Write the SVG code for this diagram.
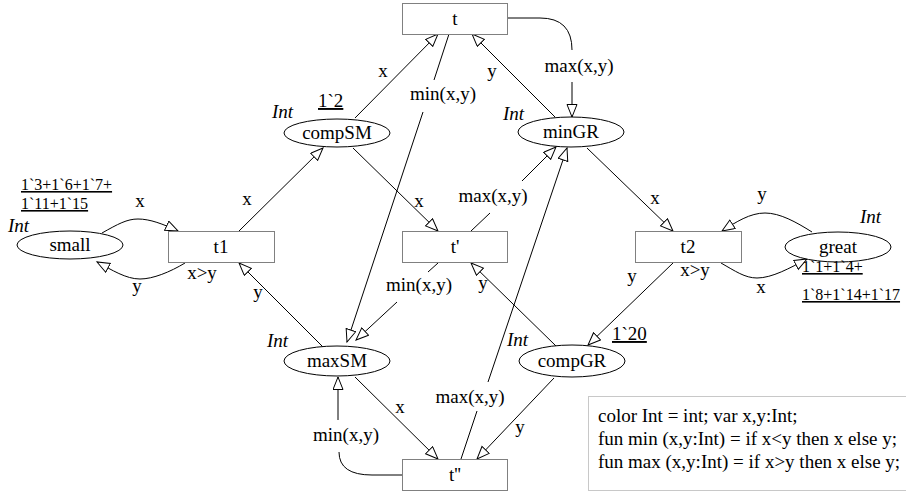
<svg xmlns="http://www.w3.org/2000/svg" width="906" height="493" viewBox="0 0 906 493">
<style>
text{font-family:"Liberation Serif","Times New Roman",serif;font-size:19px;fill:#000}
.c{text-anchor:middle}
.i{font-style:italic}
.u{text-decoration:underline}
.s{font-size:16px}
.tr{fill:#fff;stroke:#808080;stroke-width:1}
.pl{fill:#fff;stroke:#000;stroke-width:1}
.a{fill:none;stroke:#000;stroke-width:1;marker-end:url(#ah)}
.l{fill:none;stroke:#000;stroke-width:1}
</style>
<defs>
<marker id="ah" markerUnits="userSpaceOnUse" markerWidth="16" markerHeight="14" refX="13" refY="5.5" orient="auto">
<path d="M0.5,0.5 L13,5.5 L0.5,10.5 Z" fill="#fff" stroke="#000" stroke-width="1"/>
</marker>
</defs>
<rect width="906" height="493" fill="#fff"/>

<g id="connectors">
<path class="a" d="M102,233 C118,224 127,219 138,219 C150,219 163,224 178,231"/>
<text class="c" x="140" y="207">x</text>
<path class="a" d="M185,263 C170,272 153,279 140,279 C126,279 112,270 97,262"/>
<text class="c" x="137" y="292">y</text>
<text class="c" x="202" y="279">x&gt;y</text>

<path class="a" d="M239,231 L323,148"/>
<text class="c" x="247" y="205">x</text>

<path class="a" d="M355,118 L438,34"/>
<text class="c" x="383" y="77">x</text>

<path class="a" d="M353,148 L438,231"/>
<text class="c" x="419" y="207">x</text>

<path class="a" d="M449,34 L434,80 M423,112 L347,342"/>
<text class="c" x="443" y="100">min(x,y)</text>

<path class="a" d="M323,347 L239,263"/>
<text class="c" x="258" y="298">y</text>

<path class="a" d="M438,263 L428,272 M397,302 L356,340"/>
<text class="c" x="419" y="291">min(x,y)</text>

<path class="a" d="M355,377 L438,459"/>
<text class="c" x="400" y="413">x</text>

<path class="l" d="M402,475 L372,475 Q339,475 339,452"/>
<path class="a" d="M338,420 L338,377"/>
<text class="c" x="346" y="441">min(x,y)</text>

<path class="a" d="M554,378 L477,459"/>
<text class="c" x="520" y="433">y</text>

<path class="a" d="M461,459 L477,411 M488,382 L567,148"/>
<text class="c" x="470" y="403">max(x,y)</text>

<path class="a" d="M471,231 L490,213 M522,181 L556,147"/>
<text class="c" x="493" y="202">max(x,y)</text>

<path class="a" d="M556,346 L471,263"/>
<text class="c" x="483" y="289">y</text>

<path class="a" d="M555,117 L472,34"/>
<text class="c" x="492" y="77">y</text>

<path class="l" d="M507,18 L540,18 Q572,18 572,50"/>
<path class="a" d="M572,82 L572,117"/>
<text class="c" x="579" y="72">max(x,y)</text>

<path class="a" d="M587,148 L673,231"/>
<text class="c" x="655" y="204">x</text>

<path class="a" d="M673,263 L588,345"/>
<text class="c" x="632" y="282">y</text>

<path class="a" d="M812,232 C796,222 780,213 765,213 C750,213 736,222 722,231"/>
<text class="c" x="762" y="200">y</text>
<path class="a" d="M721,263 C735,271 745,278 757,278 C772,278 790,268 807,259"/>
<text class="c" x="761" y="293">x</text>
<text class="c" x="695" y="276">x&gt;y</text>
</g>

<g id="t">
<rect class="tr" x="402.5" y="3.5" width="105" height="31"/>
<text class="c" x="455" y="25">t</text>
</g>
<g id="t1">
<rect class="tr" x="168.5" y="231.5" width="106" height="31"/>
<text class="c" x="221" y="253">t1</text>
</g>
<g id="tp">
<rect class="tr" x="402.5" y="231.5" width="105" height="31"/>
<text class="c" x="455" y="253">t'</text>
</g>
<g id="t2">
<rect class="tr" x="635.5" y="231.5" width="106" height="31"/>
<text class="c" x="688" y="253">t2</text>
</g>
<g id="tpp">
<rect class="tr" x="402.5" y="459.5" width="105" height="31"/>
<text class="c" x="455" y="481">t''</text>
</g>

<g id="small">
<ellipse class="pl" cx="70" cy="245" rx="53" ry="14"/>
<text class="c" x="70" y="251">small</text>
<text class="i" x="8" y="232">Int</text>
<text class="u s" x="21" y="190">1`3+1`6+1`7+</text>
<text class="u s" x="21" y="209">1`11+1`15</text>
</g>
<g id="compSM">
<ellipse class="pl" cx="337" cy="133" rx="53" ry="14"/>
<text class="c" x="337" y="139">compSM</text>
<text class="i" x="272" y="118">Int</text>
<text class="u" x="318" y="107">1`2</text>
</g>
<g id="minGR">
<ellipse class="pl" cx="571" cy="132" rx="53" ry="15"/>
<text class="c" x="571" y="138">minGR</text>
<text class="i" x="503" y="120">Int</text>
</g>
<g id="great">
<ellipse class="pl" cx="838" cy="247" rx="53" ry="15"/>
<text class="c" x="838" y="253">great</text>
<text class="i" x="860" y="223">Int</text>
<text class="u s" x="802" y="272">1`1+1`4+</text>
<text class="u s" x="802" y="300">1`8+1`14+1`17</text>
</g>
<g id="maxSM">
<ellipse class="pl" cx="337" cy="361" rx="53" ry="15"/>
<text class="c" x="337" y="367">maxSM</text>
<text class="i" x="267" y="347">Int</text>
</g>
<g id="compGR">
<ellipse class="pl" cx="572" cy="361" rx="53" ry="16"/>
<text class="c" x="572" y="367">compGR</text>
<text class="i" x="507" y="346">Int</text>
<text class="u" x="612" y="340">1`20</text>
</g>

<g id="declarations">
<rect x="588.5" y="396.5" width="340" height="94" fill="#fff" stroke="#c8c8c8"/>
<text x="598" y="422">color Int = int; var x,y:Int;</text>
<text x="598" y="445">fun min (x,y:Int) = if x&lt;y then x else y;</text>
<text x="598" y="468">fun max (x,y:Int) = if x&gt;y then x else y;</text>
</g>
</svg>
